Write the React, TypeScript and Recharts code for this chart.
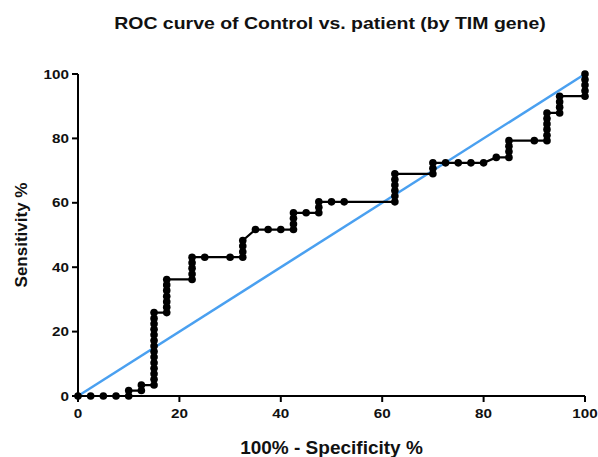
import React from 'react';
import {
  ComposedChart,
  Scatter,
  XAxis,
  YAxis,
  Label,
  ReferenceLine
} from 'recharts';

// 100% - specificity (x) and sensitivity (y) for each threshold, in order
const specX = [
  0, 2.5, 5, 7.5, 10, 10, 12.5, 12.5, 15,
  15, 15, 15, 15, 15, 15, 15, 15, 15, 15, 15, 15, 15,
  17.5, 17.5, 17.5, 17.5, 17.5, 17.5, 17.5,
  22.5, 22.5, 22.5, 22.5, 22.5,
  25, 30,
  32.5, 32.5, 32.5, 32.5,
  35, 37.5, 40, 42.5, 42.5, 42.5, 42.5,
  45, 47.5, 47.5, 47.5, 50, 52.5,
  62.5, 62.5, 62.5, 62.5, 62.5, 62.5,
  70, 70, 70, 72.5, 75, 77.5, 80, 82.5,
  85, 85, 85, 85, 90,
  92.5, 92.5, 92.5, 92.5, 92.5, 92.5,
  95, 95, 95, 95,
  100, 100, 100, 100, 100
];
const sensY = [
  0, 0, 0, 0, 0, 1.7, 1.7, 3.4, 3.4,
  5.2, 6.9, 8.6, 10.3, 12.1, 13.8, 15.5, 17.2, 19.0, 20.7, 22.4, 24.1, 25.9,
  25.9, 27.6, 29.3, 31.0, 32.8, 34.5, 36.2,
  36.2, 37.9, 39.7, 41.4, 43.1,
  43.1, 43.1,
  43.1, 44.8, 46.6, 48.3,
  51.7, 51.7, 51.7, 51.7, 53.4, 55.2, 56.9,
  56.9, 56.9, 58.6, 60.3, 60.3, 60.3,
  60.3, 62.1, 63.8, 65.5, 67.2, 69.0,
  69.0, 70.7, 72.4, 72.4, 72.4, 72.4, 72.4, 74.1,
  74.1, 75.9, 77.6, 79.3, 79.3,
  79.3, 81.0, 82.8, 84.5, 86.2, 87.9,
  87.9, 89.7, 91.4, 93.1,
  93.1, 94.8, 96.6, 98.3, 100
];
const axisTicks = [0, 20, 40, 60, 80, 100];

const rocData = specX.map((x, i) => ({ x, y: sensY[i] }));

const FONT = '"Liberation Sans", Arial, sans-serif';
const STRETCH = 1.22; // the source image is a bit wider than tall

const Dot = (props: any) => <circle cx={props.cx} cy={props.cy} r={3.8} fill="#000" />;

const XTick = (props: any) => {
  const { x, y, payload } = props;
  return (
    <g transform={`translate(${x},${y + 13}) scale(${STRETCH},1)`}>
      <text textAnchor="middle" style={{ fontFamily: FONT, fontSize: 12.5, fontWeight: 700, fill: '#111' }}>
        {payload.value}
      </text>
    </g>
  );
};

const YTick = (props: any) => {
  const { x, y, payload } = props;
  return (
    <g transform={`translate(${x - 1},${y + 4.5}) scale(${STRETCH},1)`}>
      <text textAnchor="end" style={{ fontFamily: FONT, fontSize: 12.5, fontWeight: 700, fill: '#111' }}>
        {payload.value}
      </text>
    </g>
  );
};

const YTitle = (props: any) => {
  const vb = props.viewBox;
  const cx = 21;
  const cy = vb.y + vb.height / 2;
  return (
    <text
      x={cx}
      y={cy}
      transform={`rotate(-90 ${cx} ${cy})`}
      textAnchor="middle"
      dominantBaseline="central"
      style={{ fontFamily: FONT, fontSize: 17, fontWeight: 700, fill: '#111' }}
    >
      Sensitivity %
    </text>
  );
};

export default function App() {
  return (
    <div style={{ position: 'absolute', left: 0, top: 0, width: 598, height: 457, background: '#fff' }}>
      <div
        style={{
          position: 'absolute',
          left: 0,
          top: 14,
          width: 660,
          textAlign: 'center',
          fontFamily: FONT,
          fontWeight: 700,
          fontSize: 16.5,
          color: '#111',
          transform: 'scaleX(1.18)',
          transformOrigin: '330px 0'
        }}
      >
        ROC curve of Control vs. patient (by TIM gene)
      </div>
      <ComposedChart
        width={598}
        height={457}
        margin={{ top: 74, right: 13, bottom: 0, left: 18 }}
      >
        <XAxis
          type="number"
          dataKey="x"
          domain={[0, 100]}
          ticks={axisTicks}
          height={61}
          stroke="#000"
          strokeWidth={2}
          tickSize={6}
          tickMargin={3}
          tick={<XTick />}
        >
          <Label
            value="100% - Specificity %"
            position="insideBottom"
            offset={3}
            style={{ fontFamily: FONT, fontSize: 19, fontWeight: 700, fill: '#111' }}
          />
        </XAxis>
        <YAxis
          type="number"
          dataKey="y"
          domain={[0, 100]}
          ticks={axisTicks}
          width={60}
          stroke="#000"
          strokeWidth={2}
          tickSize={6}
          tickMargin={2}
          tick={<YTick />}
        >
          <Label content={<YTitle />} />
        </YAxis>
        <Scatter
          data={rocData}
          line={{ stroke: '#000', strokeWidth: 2.2 }}
          lineType="joint"
          shape={<Dot />}
          isAnimationActive={false}
        />
        <ReferenceLine
          segment={[{ x: 0, y: 0 }, { x: 100, y: 100 }]}
          stroke="#4aa0f0"
          strokeWidth={2.5}
          ifOverflow="visible"
        />
      </ComposedChart>
    </div>
  );
}
